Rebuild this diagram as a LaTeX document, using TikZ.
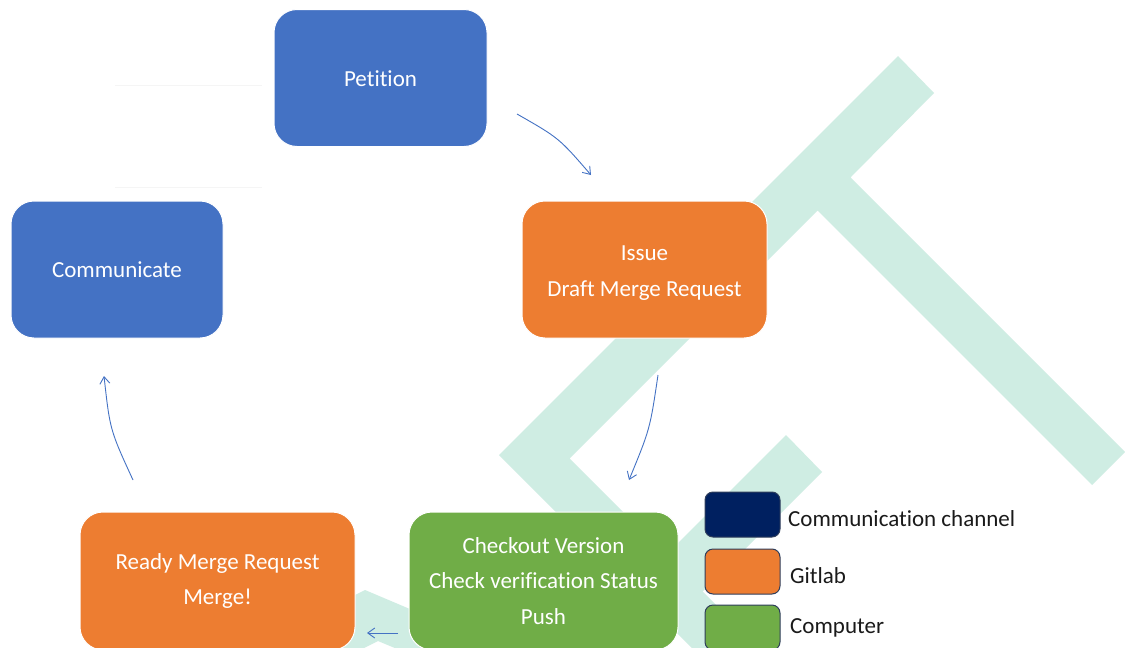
\documentclass[tikz,border=0pt]{standalone}
\usepackage{fontspec}
\setmainfont{Carlito}[Ligatures={NoCommon}]
\usetikzlibrary{arrows.meta}

\definecolor{boxblue}{HTML}{4472C4}
\definecolor{boxorange}{HTML}{ED7D31}
\definecolor{boxgreen}{HTML}{70AD47}
\definecolor{chnavy}{HTML}{002060}
\definecolor{mint}{HTML}{CFEDE3}
\definecolor{keyedge}{HTML}{2F3E5C}
\definecolor{keytext}{HTML}{1A1A1A}
\definecolor{faintrule}{HTML}{F5F5F5}

\begin{document}
\begin{tikzpicture}[x=1pt,y=-1pt,
  stage/.style={rectangle, rounded corners=23pt, draw=white, line width=1pt,
    text=white, align=center, inner sep=0pt,
    font=\fontsize{23}{35.5}\selectfont},
  keybox/.style={rectangle, rounded corners=8pt, draw=keyedge, line width=1pt,
    minimum width=75pt, minimum height=45pt, inner sep=0pt},
  keylabel/.style={anchor=base west, inner sep=0pt, text=keytext,
    font=\fontsize{23}{28}\selectfont},
  flow/.style={draw=boxblue, line width=0.9pt,
    -{Straight Barb[length=7pt,width=10pt]}},
  band/.style={fill=mint, draw=none}]

% page
\useasboundingbox (0,0) rectangle (1125,648);
\clip (0,0) rectangle (1125,648);
\fill[white] (0,0) rectangle (1125,648);

% watermark bands
\fill[band] (898,56) -- (934,93) -- (850.5,177.5) -- (1125,452) -- (1092,485)
  -- (817.5,210.5) -- (569.5,458.5) -- (811,700) -- (744,700) -- (499,455) -- cycle;
\fill[band] (786,435) -- (822,472) -- (594,700) -- (521,700) -- cycle;
\fill[band] (300,622.5) -- (365,590) -- (450,626) -- (450,671) -- (378,641)
  -- (300,680) -- cycle;

% faint guide rules
\draw[faintrule, line width=1pt] (115,85) -- (262,85);
\draw[faintrule, line width=1pt] (115,187) -- (262,187);

% process stages
\node[stage, fill=boxblue, minimum width=213pt, minimum height=137pt]
  (petition) at (380.5,78) {\rule{0pt}{17pt}Petition};
\node[stage, fill=boxorange, minimum width=245pt, minimum height=137pt]
  (issue) at (644.5,269.5) {\rule{0pt}{22pt}Issue\\Draft Merge Request};
\node[stage, fill=boxgreen, minimum width=269pt, minimum height=138pt]
  (checkout) at (543.5,581) {Checkout Version\\Check verification Status\\Push};
\node[stage, fill=boxorange, minimum width=275pt, minimum height=138pt]
  (ready) at (217.5,581) {Ready Merge Request\\Merge!};
\node[stage, fill=boxblue, minimum width=212pt, minimum height=137pt]
  (communicate) at (117,269.5) {\rule{0pt}{17pt}Communicate};

% cycle arrows
\coordinate (pi0) at (517,114);   \coordinate (pi1) at (591,175);
\coordinate (ic0) at (658,375);   \coordinate (ic1) at (629,480);
\coordinate (cr0) at (398,633);   \coordinate (cr1) at (367,633);
\coordinate (rc0) at (133,480);   \coordinate (rc1) at (104,376);
\draw[flow] (pi0) .. controls (559,138) .. (pi1);
\draw[flow] (ic0) .. controls (650,429) .. (ic1);
\draw[flow] (cr0) -- (cr1);
\draw[flow] (rc0) .. controls (110,430) .. (rc1);

% key
\node[keybox, fill=chnavy] (keychannel) at (742.5,514.5) {};
\node[keybox, fill=boxorange] (keygitlab) at (742.5,571.5) {};
\node[keybox, fill=boxgreen] (keycomputer) at (742.5,627.5) {};
\node[keylabel] (lblchannel) at (788,526) {Communication channel};
\node[keylabel] (lblgitlab) at (790,583) {Gitlab};
\node[keylabel] (lblcomputer) at (790,633) {Computer};
\end{tikzpicture}
\end{document}
